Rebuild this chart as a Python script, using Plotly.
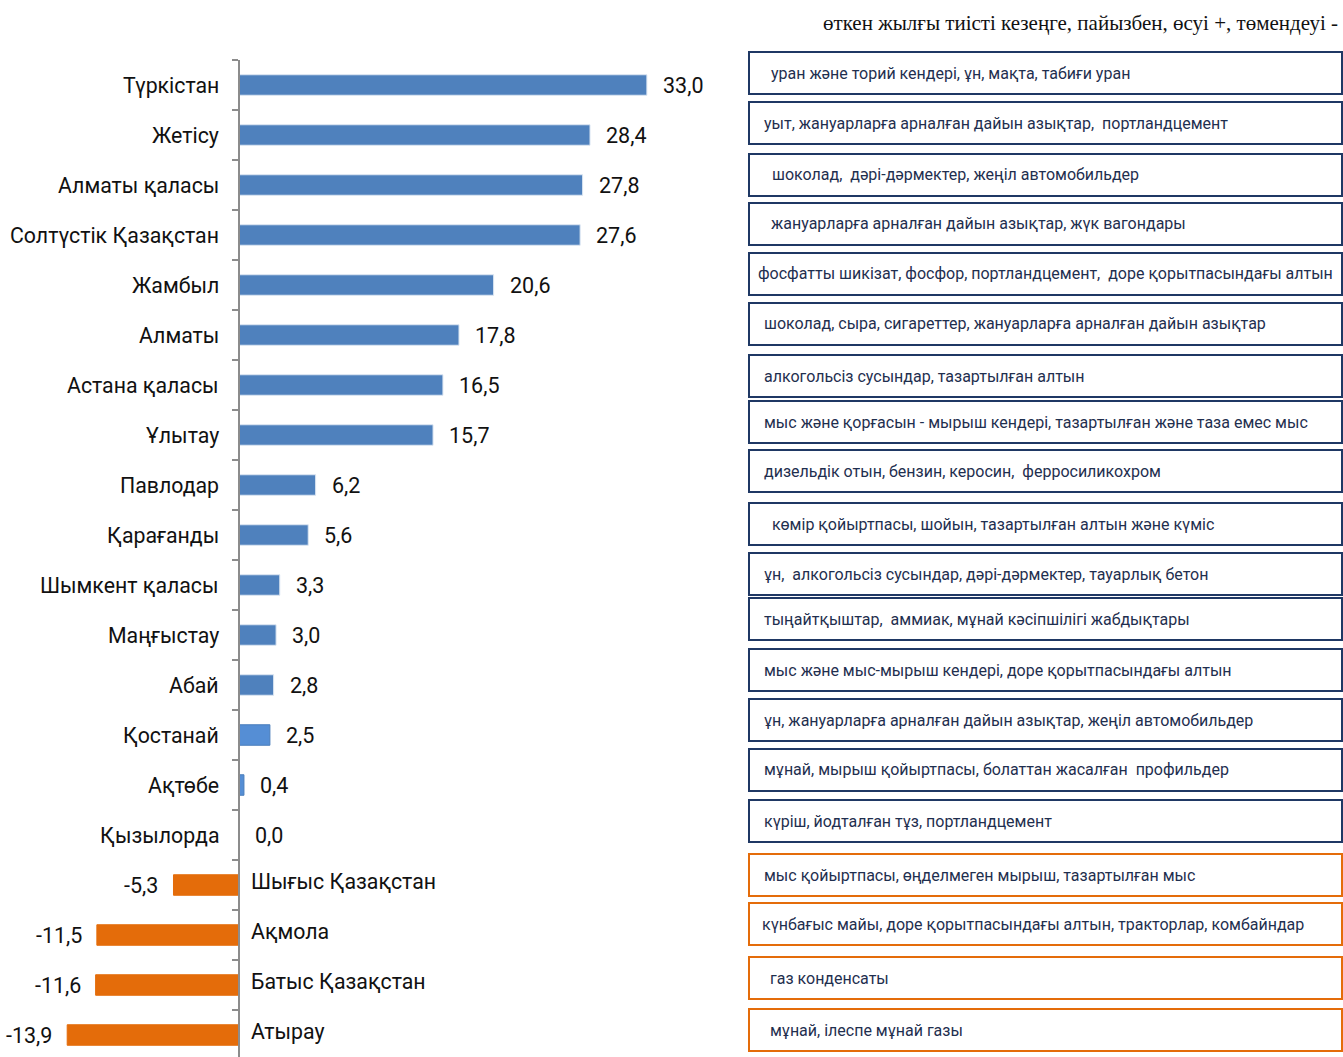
import plotly.graph_objects as go

# ---------------- data ----------------
regions = [
    "Түркістан", "Жетісу", "Алматы қаласы", "Солтүстік Қазақстан", "Жамбыл",
    "Алматы", "Астана қаласы", "Ұлытау", "Павлодар", "Қарағанды",
    "Шымкент қаласы", "Маңғыстау", "Абай", "Қостанай", "Ақтөбе",
    "Қызылорда", "Шығыс Қазақстан", "Ақмола", "Батыс Қазақстан", "Атырау",
]
growth = [
    33.0, 28.4, 27.8, 27.6, 20.6,
    17.8, 16.5, 15.7, 6.2, 5.6,
    3.3, 3.0, 2.8, 2.5, 0.4,
    0.0, -5.3, -11.5, -11.6, -13.9,
]
products = [
    "уран және торий кендері, ұн, мақта, табиғи уран",
    "уыт, жануарларға арналған дайын азықтар,  портландцемент",
    "шоколад,  дәрі-дәрмектер, жеңіл автомобильдер",
    "жануарларға арналған дайын азықтар, жүк вагондары",
    "фосфатты шикізат, фосфор, портландцемент,  доре қорытпасындағы алтын",
    "шоколад, сыра, сигареттер, жануарларға арналған дайын азықтар",
    "алкогольсіз сусындар, тазартылған алтын",
    "мыс және қорғасын - мырыш кендері, тазартылған және таза емес мыс",
    "дизельдік отын, бензин, керосин,  ферросиликохром",
    "көмір қойыртпасы, шойын, тазартылған алтын және күміс",
    "ұн,  алкогольсіз сусындар, дәрі-дәрмектер, тауарлық бетон",
    "тыңайтқыштар,  аммиак, мұнай кәсіпшілігі жабдықтары",
    "мыс және мыс-мырыш кендері, доре қорытпасындағы алтын",
    "ұн, жануарларға арналған дайын азықтар, жеңіл автомобильдер",
    "мұнай, мырыш қойыртпасы, болаттан жасалған  профильдер",
    "күріш, йодталған тұз, портландцемент",
    "мыс қойыртпасы, өңделмеген мырыш, тазартылған мыс",
    "күнбағыс майы, доре қорытпасындағы алтын, тракторлар, комбайндар",
    "газ конденсаты",
    "мұнай, ілеспе мұнай газы",
]
title_text = "өткен жылғы тиісті кезеңге, пайызбен, өсуі +, төмендеуі -"

# ---------------- layout constants (pixels) ----------------
W, H = 1343, 1057
AXIS_X = 239          # pixel position of zero line
PLOT_RIGHT = 710
PX_PER_UNIT = 12.36
PLOT_TOP = 60
BOX_X0, BOX_X1 = 749, 1342
BOX_TOPS = [52, 102, 154, 203, 253, 303, 355, 401, 450, 503,
            553, 598, 649, 699, 749, 800, 854, 903, 957, 1009]
BOX_H = 42
BOX_TEXT_X = [769, 762, 770, 769, 756, 762, 762, 762, 762, 770,
              762, 762, 762, 762, 762, 762, 762, 760, 768, 768]

BLUE = "#4F81BD"
BLUE_LIGHT = "#558ED5"
ORANGE = "#E46C0A"
NAVY = "#1F3864"
TEXT_NAVY = "#1F2F4F"
light_regions = {"Қостанай", "Ақтөбе"}

LABEL_FONT = dict(family="Roboto", size=21.3, color="#111111")
VALUE_FONT = dict(family="Roboto", size=21.5, color="#111111")
BOX_FONT = dict(family="Roboto", size=16, color=TEXT_NAVY)


def px2fx(px):
    return px / W


def py2fy(py):
    return 1 - py / H


bar_colors = []
line_colors = []
for r, v in zip(regions, growth):
    if v < 0:
        bar_colors.append(ORANGE)
        line_colors.append(ORANGE)
    elif r in light_regions:
        bar_colors.append(BLUE_LIGHT)
        line_colors.append("#4A7EBB")
    else:
        bar_colors.append(BLUE)
        line_colors.append("#DCE6F2")

fig = go.Figure()
fig.add_trace(go.Bar(
    x=growth, y=regions, orientation="h", width=0.41,
    marker=dict(color=bar_colors, line=dict(color=line_colors, width=1)),
    hoverinfo="skip", showlegend=False,
))

annotations = []
for r, v in zip(regions, growth):
    lab = f"{v:.1f}".replace(".", ",")
    if v >= 0:
        annotations.append(dict(x=v, y=r, xref="x", yref="y", text=lab, showarrow=False,
                                xanchor="left", xshift=14, font=VALUE_FONT))
        annotations.append(dict(x=0, y=r, xref="x", yref="y", text=r, showarrow=False,
                                xanchor="right", xshift=-18, font=LABEL_FONT))
    else:
        annotations.append(dict(x=v, y=r, xref="x", yref="y", text=lab, showarrow=False,
                                xanchor="right", xshift=-13, font=VALUE_FONT))
        annotations.append(dict(x=0, y=r, xref="x", yref="y", text=r, showarrow=False,
                                xanchor="left", xshift=10, yshift=4, font=LABEL_FONT))

shapes = []
for i, (t, top) in enumerate(zip(products, BOX_TOPS)):
    col = ORANGE if growth[i] < 0 else NAVY
    shapes.append(dict(type="rect", xref="paper", yref="paper",
                       x0=px2fx(BOX_X0), x1=px2fx(BOX_X1),
                       y0=py2fy(top + BOX_H), y1=py2fy(top),
                       line=dict(color=col, width=2), fillcolor="white", layer="below"))
    annotations.append(dict(x=px2fx(BOX_TEXT_X[i]), y=py2fy(top + BOX_H / 2),
                            xref="paper", yref="paper", text=t, showarrow=False,
                            xanchor="left", yanchor="middle", font=BOX_FONT))

annotations.append(dict(x=px2fx(1340), y=py2fy(23), xref="paper", yref="paper",
                        text=title_text, showarrow=False, xanchor="right", yanchor="middle",
                        font=dict(family="Liberation Serif", size=21, color="#111111")))

x_min = -AXIS_X / PX_PER_UNIT
x_max = (PLOT_RIGHT - AXIS_X) / PX_PER_UNIT
top_frac = (H - PLOT_TOP) / H
units_visible = (H - PLOT_TOP) / 50.0

fig.update_layout(
    width=W, height=H,
    margin=dict(l=0, r=0, t=0, b=0),
    paper_bgcolor="white", plot_bgcolor="rgba(0,0,0,0)",
    xaxis=dict(domain=[0, PLOT_RIGHT / W], range=[x_min, x_max],
               showgrid=False, zeroline=False, showticklabels=False, ticks="",
               showline=False, fixedrange=True),
    yaxis=dict(domain=[0, top_frac], categoryorder="array", categoryarray=regions,
               range=[-0.5 + units_visible, -0.5],
               anchor="free", position=AXIS_X / W,
               showline=True, linecolor="#8C8C8C", linewidth=2,
               ticks="outside", ticklen=6, tickcolor="#8C8C8C", tickwidth=1.5,
               tickson="boundaries", showticklabels=False, showgrid=False,
               zeroline=False, fixedrange=True),
    shapes=shapes,
    annotations=annotations,
    bargap=0.59,
)

fig.write_html(
    "out.html",
    config={"displayModeBar": False, "staticPlot": True},
    post_script="document.body.style.margin='0';document.body.style.overflow='hidden';",
)
